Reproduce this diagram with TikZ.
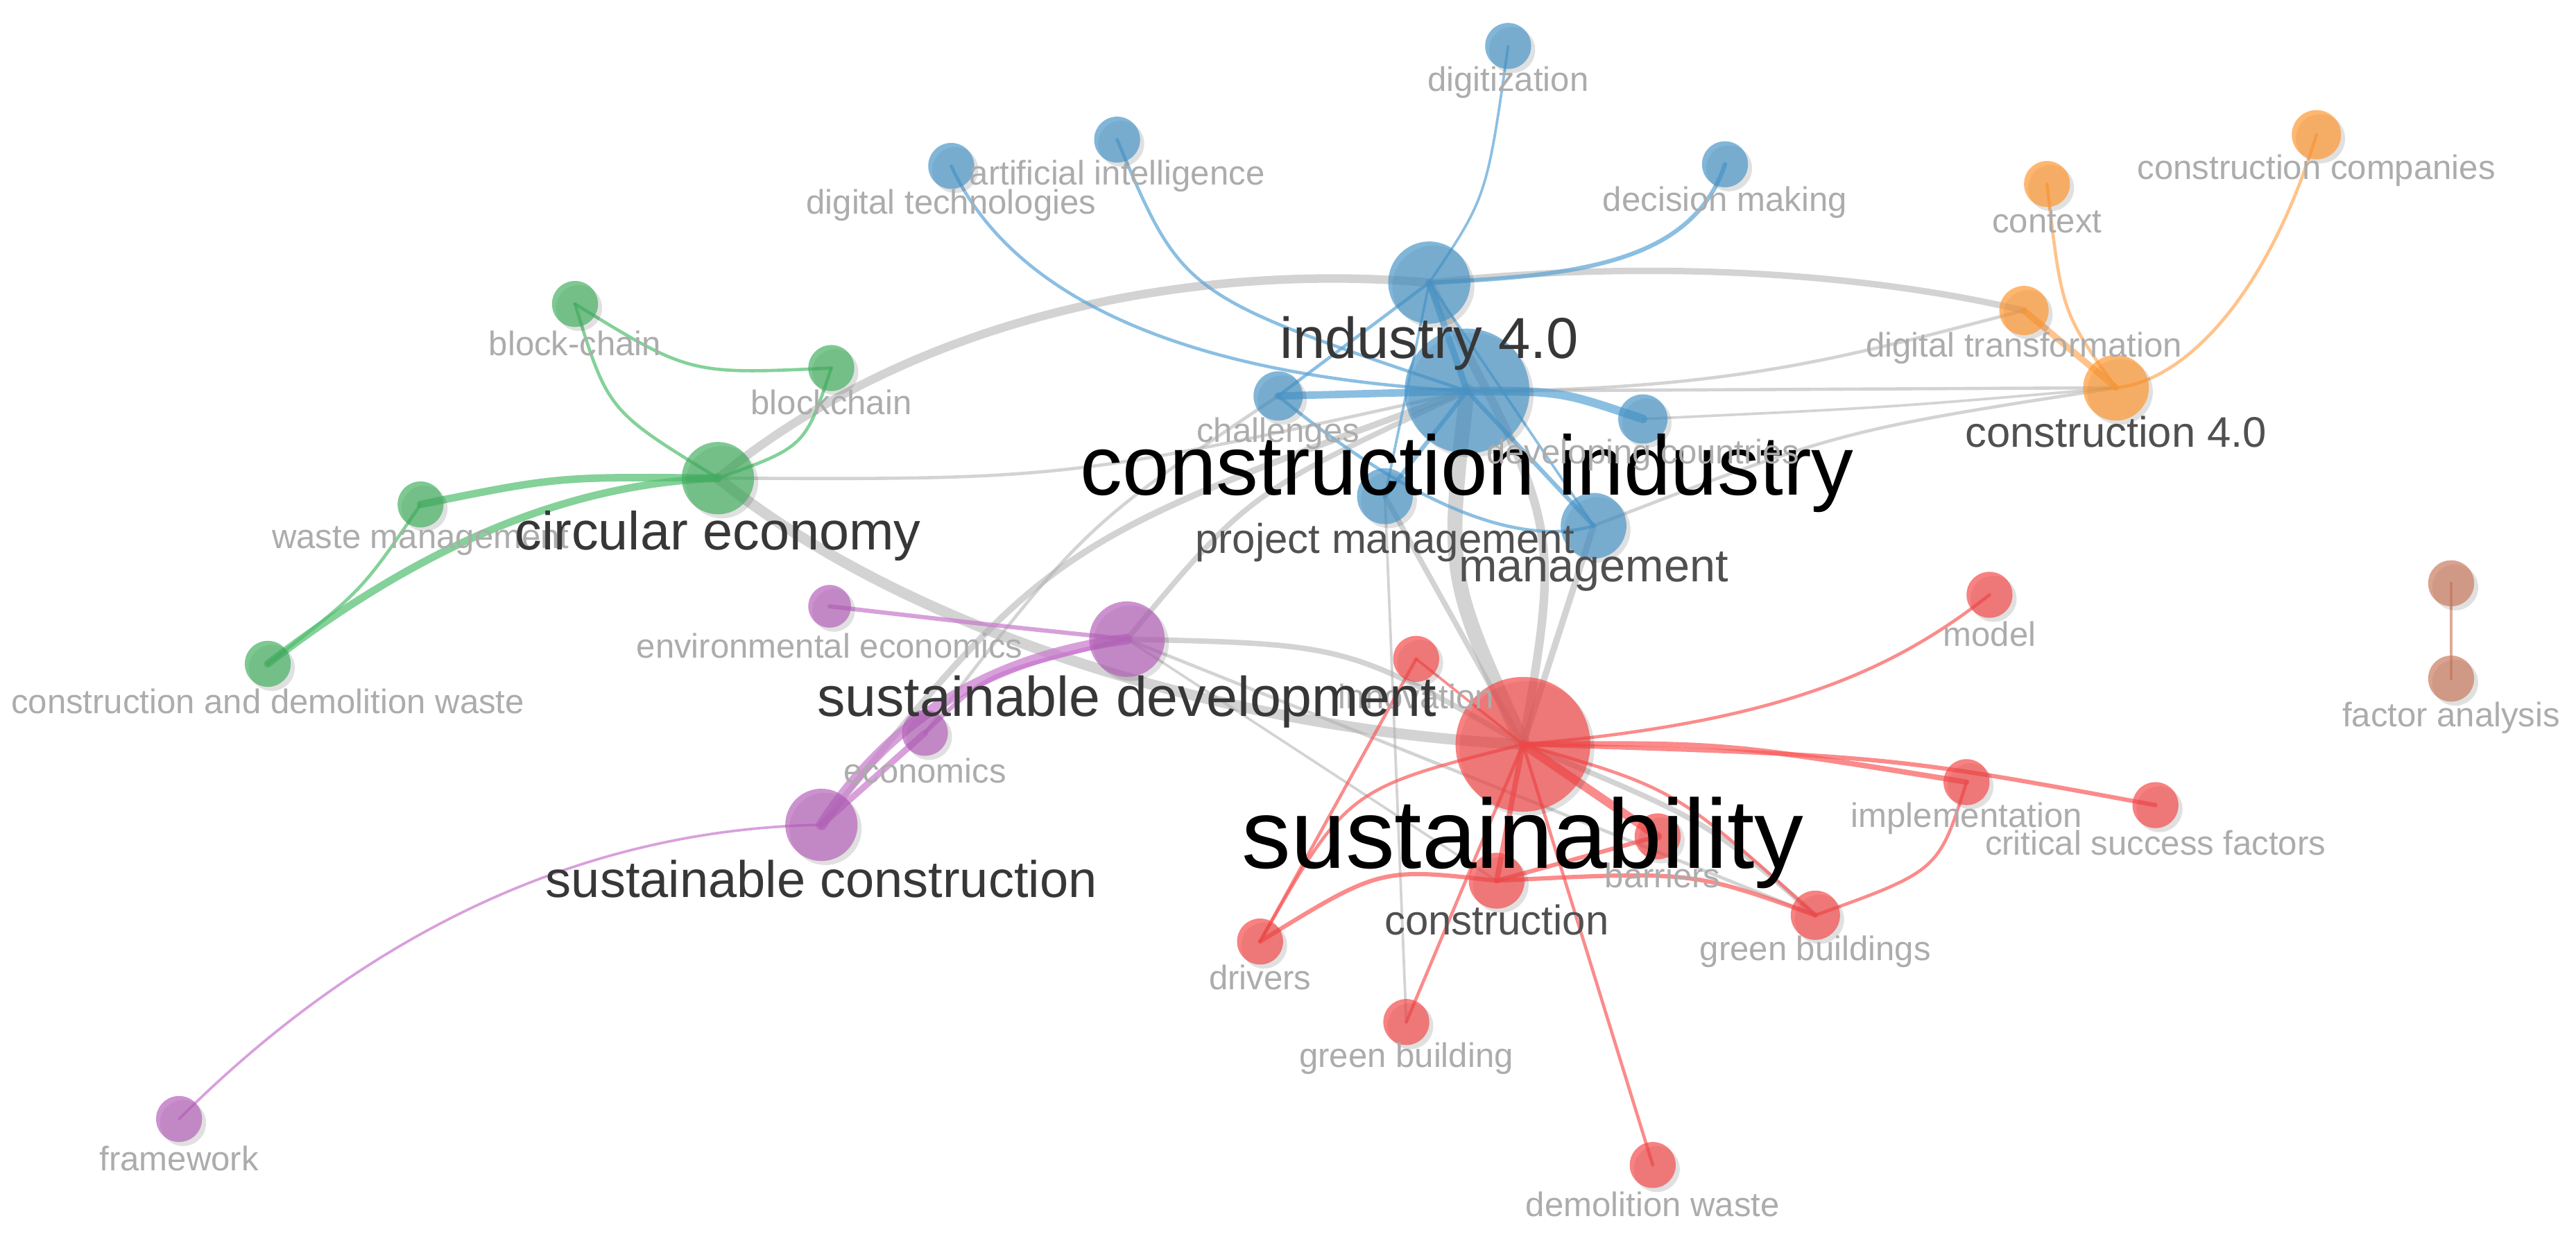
\documentclass[tikz,border=0pt]{standalone}
\usepackage{fontspec}
\setmainfont{Liberation Sans}
\usetikzlibrary{shadows}
\pgfdeclarelayer{bg}\pgfdeclarelayer{fg}
\pgfsetlayers{bg,main,fg}
\definecolor{blueN}{RGB}{70,148,200}
\definecolor{redN}{RGB}{245,70,70}
\definecolor{greenN}{RGB}{65,175,95}
\definecolor{orangeN}{RGB}{255,150,45}
\definecolor{purpleN}{RGB}{180,95,185}
\definecolor{brownN}{RGB}{200,120,90}
\definecolor{blueE}{RGB}{90,165,215}
\definecolor{redE}{RGB}{250,90,90}
\definecolor{greenE}{RGB}{80,190,110}
\definecolor{orangeE}{RGB}{255,170,90}
\definecolor{purpleE}{RGB}{200,120,205}
\definecolor{brownE}{RGB}{210,135,105}
\definecolor{edgeGray}{RGB}{175,175,175}
\definecolor{labGray}{RGB}{172,172,172}
\definecolor{midGray}{RGB}{80,80,80}
\definecolor{darkGray}{RGB}{55,55,55}
\tikzset{
  kw/.style={circle, inner sep=0pt, minimum size=#1*0.2mm, fill opacity=0.68, draw=none,
     drop shadow={shadow xshift=0.7pt, shadow yshift=-0.7pt, opacity=0.12, fill=black}},
  kb/.style={kw=#1, fill=blueN},
  kr/.style={kw=#1, fill=redN},
  kg/.style={kw=#1, fill=greenN},
  ko/.style={kw=#1, fill=orangeN},
  kp/.style={kw=#1, fill=purpleN},
  kn/.style={kw=#1, fill=brownN},
  edg/.style={line width=#1*0.13mm, line cap=round, draw opacity=0.7},
  ge/.style={edg=#1, draw=edgeGray, draw opacity=0.55},
  be/.style={edg=#1, draw=blueE},
  re/.style={edg=#1, draw=redE},
  gre/.style={edg=#1, draw=greenE},
  oe/.style={edg=#1, draw=orangeE},
  pe/.style={edg=#1, draw=purpleE},
  ne/.style={edg=#1, draw=brownE},
  lab/.style={inner sep=0pt, text=labGray, font=\fontsize{5.9}{6}\selectfont},
  fs/.style={font=\fontsize{#1}{#1}\selectfont},
  midlab/.style={inner sep=0pt, text=midGray},
  darklab/.style={inner sep=0pt, text=darkGray},
  biglab/.style={inner sep=0pt, text=black}
}
\begin{document}
\begin{tikzpicture}[x=0.1mm,y=-0.1mm]
\useasboundingbox (0,0) rectangle (1568,754);
\begin{pgfonlayer}{bg}
\fill[white] (0,0) rectangle (1568,754);
\end{pgfonlayer}
% ---------- nodes
% blue
\node[kb=38] (ci) at (893,238) {};
\node[kb=25] (i4) at (870,172) {};
\node[kb=14] (dig) at (918,28) {};
\node[kb=14] (ai) at (680,85) {};
\node[kb=14] (dt) at (579,101) {};
\node[kb=14] (dm) at (1050,100) {};
\node[kb=15] (ch) at (778,241) {};
\node[kb=15] (dc) at (1000,255) {};
\node[kb=17] (pm) at (843,302) {};
\node[kb=20] (mg) at (970,320) {};
% orange
\node[ko=20] (c4) at (1288,236) {};
\node[ko=15] (dtr) at (1232,189) {};
\node[ko=14] (ctx) at (1246,112) {};
\node[ko=15] (cc) at (1410,82) {};
% brown
\node[kn=14] (fa1) at (1492,355) {};
\node[kn=14] (fa) at (1492,413) {};
% green
\node[kg=22] (ce) at (437,291) {};
\node[kg=14] (bc1) at (350,185) {};
\node[kg=14] (bc2) at (506,224) {};
\node[kg=14] (wm) at (256,307) {};
\node[kg=14] (cdw) at (163,404) {};
% purple
\node[kp=23] (sd) at (686,389) {};
\node[kp=13] (ee) at (505,369) {};
\node[kp=14] (eco) at (563,446) {};
\node[kp=22] (sc) at (500,502) {};
\node[kp=14] (fw) at (109,681) {};
% red
\node[kr=41] (su) at (927,453) {};
\node[kr=14] (inn) at (862,401) {};
\node[kr=14] (mod) at (1211,362) {};
\node[kr=14] (imp) at (1197,476) {};
\node[kr=14] (csf) at (1312,490) {};
\node[kr=14] (bar) at (1009,509) {};
\node[kr=17] (con) at (911,536) {};
\node[kr=15] (gbs) at (1105,557) {};
\node[kr=14] (drv) at (767,573) {};
\node[kr=14] (gb) at (856,622) {};
\node[kr=14] (dw) at (1006,709) {};
% ---------- edges
\begin{pgfonlayer}{bg}
% gray links between clusters
\draw[ge=4] (ce.center) .. controls (560,190) and (730,160) .. (i4.center);
\draw[ge=3] (i4.center) .. controls (1000,158) and (1130,165) .. (dtr.center);
\draw[ge=1.5] (ce.center) .. controls (650,292) .. (ci.center);
\draw[ge=5] (ce.center) .. controls (560,390) and (760,445) .. (su.center);
\draw[ge=2.5] (sd.center) .. controls (820,392) .. (su.center);
\draw[ge=2.5] (sd.center) .. controls (760,300) .. (ci.center);
\draw[ge=3] (sc.center) .. controls (640,330) .. (ci.center);
\draw[ge=1.5] (eco.center) .. controls (660,320) .. (ch.center);
\draw[ge=7] (ci.center) .. controls (880,350) .. (su.center);
\draw[ge=4] (i4.center) .. controls (950,320) .. (su.center);
\draw[ge=3] (mg.center) -- (su.center);
\draw[ge=2.5] (pm.center) -- (su.center);
\draw[ge=1.5] (ci.center) -- (c4.center);
\draw[ge=1.5] (ci.center) .. controls (1060,238) and (1130,215) .. (dtr.center);
\draw[ge=1.5] (c4.center) .. controls (1120,262) .. (mg.center);
\draw[ge=1.2] (dc.center) .. controls (1150,248) .. (c4.center);
\draw[ge=1.2] (gb.center) -- (pm.center);
\draw[ge=1.5] (sd.center) -- (gbs.center);
\draw[ge=1.2] (sd.center) -- (con.center);
\draw[ge=2.5] (su.center) .. controls (1040,500) .. (gbs.center);
% blue
\draw[be=1.5] (dt.center) .. controls (620,190) and (740,230) .. (ci.center);
\draw[be=1.5] (ai.center) .. controls (720,180) .. (ci.center);
\draw[be=1.2] (dig.center) .. controls (905,120) .. (i4.center);
\draw[be=2] (dm.center) .. controls (1030,160) and (960,168) .. (i4.center);
\draw[be=3] (i4.center) -- (ci.center);
\draw[be=3.5] (ch.center) -- (ci.center);
\draw[be=4] (ci.center) .. controls (950,238) .. (dc.center);
\draw[be=1.5] (ch.center) .. controls (850,300) and (920,335) .. (mg.center);
\draw[be=2] (pm.center) -- (ci.center);
\draw[be=2] (mg.center) -- (ci.center);
\draw[be=1.2] (i4.center) -- (mg.center);
\draw[be=1.2] (i4.center) -- (pm.center);
\draw[be=1.5] (ch.center) -- (i4.center);
% orange
\draw[oe=1.5] (ctx.center) .. controls (1255,190) .. (c4.center);
\draw[oe=1.5] (cc.center) .. controls (1380,180) and (1330,232) .. (c4.center);
\draw[oe=3] (dtr.center) -- (c4.center);
% brown
\draw[ne=1.5] (fa1.center) -- (fa.center);
% green
\draw[gre=1.5] (bc1.center) .. controls (420,228) .. (bc2.center);
\draw[gre=1.5] (bc1.center) .. controls (370,250) .. (ce.center);
\draw[gre=1.5] (bc2.center) .. controls (490,272) .. (ce.center);
\draw[gre=3.5] (wm.center) .. controls (340,290) .. (ce.center);
\draw[gre=3.5] (cdw.center) .. controls (240,345) and (330,295) .. (ce.center);
\draw[gre=1.5] (wm.center) .. controls (220,360) .. (cdw.center);
% purple
\draw[pe=2] (ee.center) .. controls (600,380) .. (sd.center);
\draw[pe=5] (sd.center) .. controls (600,400) and (540,440) .. (sc.center);
\draw[pe=3] (eco.center) -- (sc.center);
\draw[pe=2] (eco.center) .. controls (600,410) .. (sd.center);
\draw[pe=1.2] (fw.center) .. controls (200,590) and (330,505) .. (sc.center);
% red
\draw[re=1.5] (su.center) .. controls (1080,440) and (1150,410) .. (mod.center);
\draw[re=2.5] (su.center) .. controls (1050,452) .. (imp.center);
\draw[re=2] (su.center) .. controls (1150,460) .. (csf.center);
\draw[re=4] (su.center) -- (bar.center);
\draw[re=2.5] (su.center) -- (con.center);
\draw[re=1.5] (su.center) .. controls (1020,480) .. (gbs.center);
\draw[re=1.5] (su.center) .. controls (820,480) .. (drv.center);
\draw[re=1.5] (su.center) -- (gb.center);
\draw[re=1.5] (su.center) -- (dw.center);
\draw[re=1.5] (inn.center) -- (drv.center);
\draw[re=1.2] (inn.center) -- (su.center);
\draw[re=2] (drv.center) .. controls (840,528) .. (con.center);
\draw[re=2] (con.center) .. controls (1030,530) .. (gbs.center);
\draw[re=1.5] (imp.center) .. controls (1180,530) .. (gbs.center);
\draw[re=2] (con.center) -- (bar.center);
\end{pgfonlayer}
% ---------- labels
\begin{pgfonlayer}{fg}
\node[lab] (inn-l) at (862,424) {innovation};
\node[biglab, fs=14.6] (ci-l) at (893,288) {construction industry};
\node[darklab, fs=10] (i4-l) at (870,209) {industry 4.0};
\node[lab] (dig-l) at (918,50) {digitization};
\node[lab] (ai-l) at (680,107) {artificial intelligence};
\node[lab] (dt-l) at (579,125) {digital technologies};
\node[lab] (dm-l) at (1050,123) {decision making};
\node[lab] (ch-l) at (778,264) {challenges};
\node[lab] (dc-l) at (1000,277) {developing countries};
\node[midlab, fs=7.2] (pm-l) at (843,330) {project management};
\node[midlab, fs=8] (mg-l) at (970,348) {management};
\node[midlab, fs=7.4] (c4-l) at (1288,263) {construction 4.0};
\node[lab] (dtr-l) at (1232,212) {digital transformation};
\node[lab] (ctx-l) at (1246,135) {context};
\node[lab] (cc-l) at (1410,104) {construction companies};
\node[lab] (fa-l) at (1492,437) {factor analysis};
\node[lab] (wm-l) at (256,329) {waste management};
\node[darklab, fs=9.3] (ce-l) at (437,326) {circular economy};
\node[lab] (bc1-l) at (350,209) {block-chain};
\node[lab] (bc2-l) at (506,245) {blockchain};
\node[lab] (cdw-l) at (163,427) {construction and demolition waste};
\node[lab] (ee-l) at (505,393) {environmental economics};
\node[lab] (eco-l) at (563,469) {economics};
\node[darklab, fs=9.7] (sd-l) at (686,427) {sustainable development};
\node[darklab, fs=8.9] (sc-l) at (500,535) {sustainable construction};
\node[lab] (fw-l) at (109,705) {framework};
\node[lab] (mod-l) at (1211,386) {model};
\node[lab] (imp-l) at (1197,498) {implementation};
\node[lab] (csf-l) at (1312,513) {critical success factors};
\node[lab] (bar-l) at (1012,533) {barriers};
\node[midlab, fs=7.2] (con-l) at (911,560) {construction};
\node[lab] (gbs-l) at (1105,579) {green buildings};
\node[lab] (drv-l) at (767,595) {drivers};
\node[lab] (gb-l) at (856,644) {green building};
\node[lab] (dw-l) at (1006,733) {demolition waste};
\node[biglab, fs=17.0] (su-l) at (927,513) {sustainability};
\end{pgfonlayer}
\end{tikzpicture}
\end{document}
